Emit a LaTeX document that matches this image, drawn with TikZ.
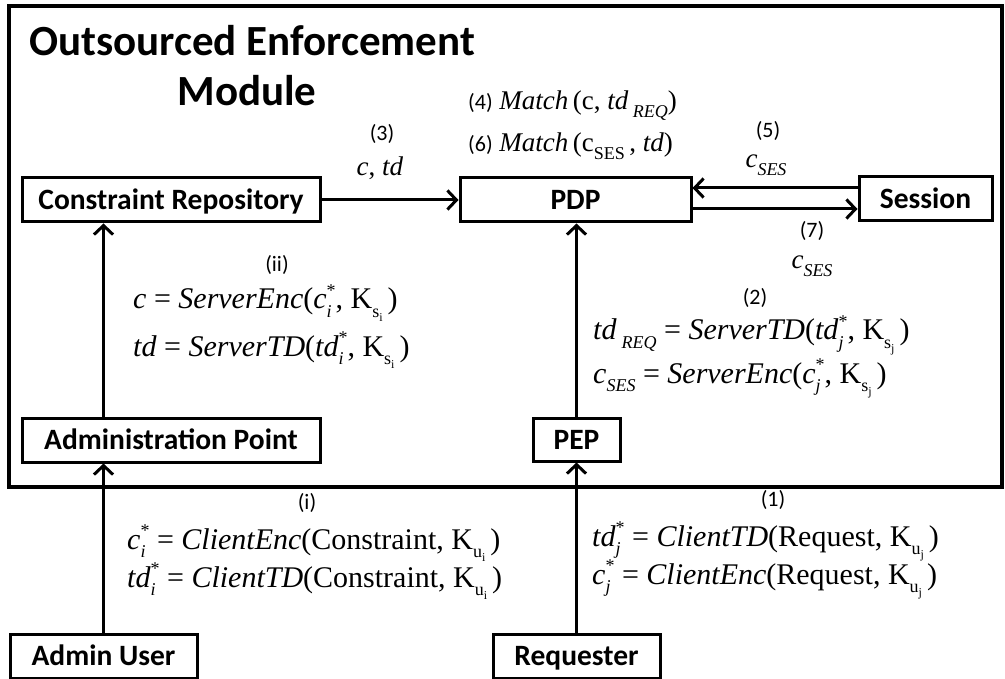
\documentclass[tikz,border=0pt]{standalone}
\usepackage{fontspec}
\setmainfont{Liberation Serif}
\newfontfamily\calfont{Carlito}
\usetikzlibrary{arrows.meta}
\newcommand{\It}[1]{\textit{#1}}
\newcommand{\ScrFont}{\fontsize{18}{18}\selectfont}
\newcommand{\SScrFont}{\fontsize{12}{12}\selectfont}
\newcommand{\Sub}[1]{\raisebox{-0.28em}{\ScrFont #1}}
\newcommand{\SSub}[1]{\raisebox{-0.22em}{\SScrFont #1}}
\newcommand{\SupSub}[2]{\setbox0\hbox{\ScrFont #1}\setbox2\hbox{\ScrFont #2}\raisebox{0.42em}{\copy0}\kern-\wd0\raisebox{-0.28em}{\copy2}\kern-\wd2\kern\ifdim\wd0>\wd2 \wd0\else\wd2\fi\relax}
\tikzset{
  box/.style={draw, line width=3pt, font=\calfont\bfseries\fontsize{29.5}{31}\selectfont, inner sep=0pt, text height=19pt, text depth=0pt},
  arr/.style={line width=3pt, -{Straight Barb[length=9pt,width=19pt]}},
  lab/.style={font=\calfont\fontsize{22}{24}\selectfont, inner sep=0pt},
  eq/.style={font=\fontsize{30}{32}\selectfont, anchor=base west, inner sep=0pt},
  meq/.style={font=\fontsize{27}{30}\selectfont, anchor=base west, inner sep=0pt},
  ttl/.style={font=\calfont\bfseries\fontsize{43}{48}\selectfont, anchor=base, inner sep=0pt}
}
\begin{document}
\begin{tikzpicture}[x=1pt,y=-1pt]
\useasboundingbox (0,0) rectangle (1005,679);
% outer module
\node[draw, line width=4pt, minimum width=993pt, minimum height=481pt, inner sep=0pt] (mod) at (505.5,246.5) {};
\node[ttl] (t1) at (252,56) {Outsourced Enforcement};
\node[ttl] (t2) at (247,106) {Module};
% boxes
\node[box, minimum width=298pt, minimum height=44pt] (cr) at (171,200) {Constraint Repository};
\node[box, minimum width=231pt, minimum height=44pt] (pdp) at (575.5,200) {PDP};
\node[box, minimum width=133pt, minimum height=44pt] (ses) at (925.5,199) {Session};
\node[box, minimum width=298pt, minimum height=44pt] (ap) at (171,440) {Administration Point};
\node[box, minimum width=87pt, minimum height=43pt] (pep) at (576.5,439.5) {PEP};
\node[box, minimum width=187pt, minimum height=44pt] (au) at (103.5,656) {Admin User};
\node[box, minimum width=167pt, minimum height=44pt] (req) at (576.5,656) {Requester};
% connectors
\coordinate (y5) at (0,188);
\coordinate (y7) at (0,209);
\draw[arr] (au.north) -- (ap.south -| au.north);
\draw[arr] (ap.north -| au.north) -- (cr.south -| au.north);
\draw[arr] (req.north) -- (pep.south);
\draw[arr] (pep.north) -- (pdp.south -| pep.north);
\draw[arr] (cr.east) -- (pdp.west);
\draw[arr] (ses.west |- y5) -- (pdp.east |- y5);
\draw[arr] (pdp.east |- y7) -- (ses.west |- y7);
% labels (3)
\node[lab] (l3) at (382,134) {(3)};
\node[meq, anchor=center] (e3) at (380,168) {\It{c}, \It{td}};
% (4) (6)
\node[meq] (e4) at (468,110) {{\calfont\fontsize{22}{24}\selectfont (4)} \It{Match}\,(c, \It{td}\,\Sub{\It{REQ}})};
\node[meq] (e6) at (468,152) {{\calfont\fontsize{22}{24}\selectfont (6)} \It{Match}\,(c\Sub{SES}\,, \It{td})};
% (5) (7)
\node[lab] (l5) at (768,131) {(5)};
\node[meq, anchor=center] (e5) at (766,165) {\It{c}\Sub{\It{SES}}};
\node[lab] (l7) at (812,231) {(7)};
\node[meq, anchor=center] (e7) at (812,266) {\It{c}\Sub{\It{SES}}};
% (ii)
\node[lab] (lii) at (277,265) {(ii)};
\node[eq] (eii1) at (133,309) {\It{c} = \It{ServerEnc}(\It{c}\SupSub{*}{\It{i}}, K\Sub{s\SSub{i}}\,)};
\node[eq] (eii2) at (133,356) {\It{td} = \It{ServerTD}(\It{td}\SupSub{*}{\It{i}}, K\Sub{s\SSub{i}}\,)};
% (2)
\node[lab] (l2) at (755,298) {(2)};
\node[eq] (e21) at (593,340) {\It{td}\,\Sub{\It{REQ}} = \It{ServerTD}(\It{td}\SupSub{*}{\It{j}}, K\Sub{s\SSub{j}}\,)};
\node[eq] (e22) at (593,383) {\It{c}\Sub{\It{SES}} = \It{ServerEnc}(\It{c}\SupSub{*}{\It{j}}, K\Sub{s\SSub{j}}\,)};
% (i)
\node[lab] (li) at (307,503) {(i)};
\node[eq] (ei1) at (127,549) {\It{c}\SupSub{*}{\It{i}} = \It{ClientEnc}(Constraint, K\Sub{u\SSub{i}}\,)};
\node[eq] (ei2) at (127,587) {\It{td}\SupSub{*}{\It{i}} = \It{ClientTD}(Constraint, K\Sub{u\SSub{i}}\,)};
% (1)
\node[lab] (l1) at (773,500) {(1)};
\node[eq] (e11) at (592,546) {\It{td}\SupSub{*}{\It{j}} = \It{ClientTD}(Request, K\Sub{u\SSub{j}}\,)};
\node[eq] (e12) at (592,584) {\It{c}\SupSub{*}{\It{j}} = \It{ClientEnc}(Request, K\Sub{u\SSub{j}}\,)};
\end{tikzpicture}
\end{document}
